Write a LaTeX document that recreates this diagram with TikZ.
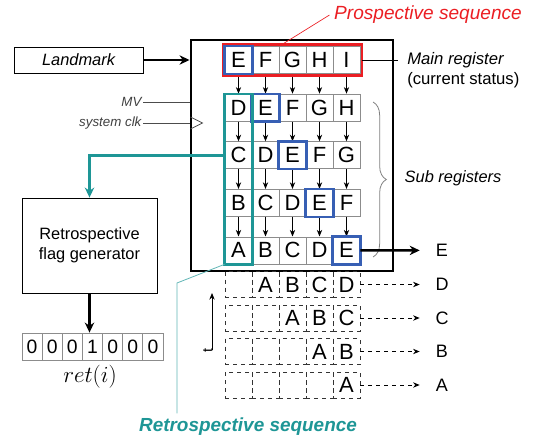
\documentclass[tikz,border=0pt]{standalone}
\usepackage{fontspec}
\setmainfont{Liberation Sans}
\usetikzlibrary{arrows.meta,decorations.pathreplacing,positioning}
\definecolor{prored}{RGB}{235,30,35}
\definecolor{retteal}{RGB}{30,150,150}
\definecolor{eblue}{RGB}{55,95,180}
\tikzset{
  cell/.style={draw=gray!90,line width=0.6pt,minimum width=20.25pt,minimum height=20.25pt,inner sep=0pt,font=\fontsize{16.5}{17}\selectfont},
  dcell/.style={cell,draw=black!80,dashed,minimum height=19.5pt},
  bit/.style={draw=gray!90,line width=0.6pt,minimum width=15.1pt,minimum height=20.25pt,inner sep=0pt,font=\fontsize{14.5}{16}\selectfont},
  outlbl/.style={minimum width=33pt,inner sep=0pt,font=\fontsize{13.5}{16}\selectfont},
  note/.style={font=\fontsize{12.3}{15}\selectfont\itshape},
  sig/.style={font=\fontsize{10}{12}\selectfont\itshape,text=black!75,inner sep=1pt},
  bigarrow/.style={line width=2pt,-{Stealth[length=7.5pt,width=7pt]}}
}
\begin{document}
\begin{tikzpicture}[x=0.75pt, y=-0.75pt, >={Stealth[length=5pt,width=4pt]}]
  \useasboundingbox (0,0) rectangle (533,439);
  \node[draw, line width=2.2pt, minimum width=151.5pt, minimum height=173.25pt] (regbox) at (292,155.5) {};
  \foreach \r/\row in {0/{E,F,G,H,I}, 1/{D,E,F,G,H}, 2/{C,D,E,F,G}, 3/{B,C,D,E,F}, 4/{A,B,C,D,E}}
    \foreach \l [count=\c] in \row
      \node[cell] (r\r-\c) at ({211.5+27*\c},{60+47.6*\r}) {\l};
  \foreach \r [evaluate=\r as \n using int(\r+1)] in {0,...,3}
    \foreach \c in {1,...,5}
      \draw[->, line width=0.6pt] (r\r-\c) -- (r\n-\c);
  \draw[prored, line width=1.8pt] ([shift={(-1.5,1.5)}]r0-1.south west) rectangle ([shift={(1.5,-1.5)}]r0-5.north east);
  \foreach \r/\c in {0/1,1/2,2/3,3/4,4/5}
    \draw[eblue, line width=1.8pt] (r\r-\c.south west) rectangle (r\r-\c.north east);
  \draw[retteal, line width=1.8pt] (r1-1.north west) rectangle (r4-1.south east);

  \node[draw, line width=0.6pt, minimum width=96.75pt, minimum height=19.5pt, note] (landmark) at (78.5,60) {Landmark};
  \draw[bigarrow] (landmark.east) -- (landmark.east -| regbox.west);
  \node[sig, anchor=east] (mv) at (143,102) {MV};
  \draw[line width=0.6pt, black!70] (mv.east) -- (mv.east -| regbox.west);
  \node[sig, anchor=east] (clk) at (143,123) {system clk};
  \draw[line width=0.6pt, black!70] (clk.east) -- (clk.east -| regbox.west);
  \coordinate (clkin) at (clk.east -| regbox.west);
  \draw[line width=0.6pt, black!70] (clkin) ++(1,-6) -- ++(12,6) -- ++(-12,6);

  \node[anchor=west, align=left, inner xsep=6.75pt, inner ysep=0pt, font=\fontsize{12.5}{15}\selectfont] (mainlbl) at (398,70) {{\itshape Main register}\\(current status)};
  \draw[line width=0.6pt] ([xshift=1.5pt]r0-5.east) -- (mainlbl.west |- r0-5.east);
  \node[text=prored, font=\fontsize{14.3}{16}\selectfont\itshape] (prosp) at (428,15) {Prospective sequence};
  \draw[prored, line width=0.5pt] (prosp.west) -- (r0-2.north east);

  \draw[gray, line width=0.6pt, decorate, decoration={brace, amplitude=10pt}] (373,102) -- (373,257);
  \node[note, anchor=west] (sublbl) at (400,178) {Sub registers};

  \node[draw, line width=0.6pt, minimum width=101.25pt, minimum height=71.25pt, align=center, font=\fontsize{12.3}{15}\selectfont] (flag) at (89.5,245.5) {Retrospective\\flag generator};
  \draw[bigarrow, retteal] (r2-1.west) -| (flag.north);
  \foreach \b [count=\i] in {0,0,0,1,0,0,0}
    \node[bit] (b\i) at ({11.93+20.14*\i},346.5) {\b};
  \draw[bigarrow] (flag.south) -- (flag.south |- b4.north);
  \node[font=\fontsize{16}{18}\selectfont] (retlbl) at (90,377) {$ret(i)$};

  \foreach \r/\row in {1/{{},A,B,C,D}, 2/{{},{},A,B,C}, 3/{{},{},{},A,B}, 4/{{},{},{},{},A}}
    \foreach \l [count=\c] in \row
      \node[dcell] (d\r-\c) at ({211.5+27*\c},{251+33.5*\r}) {\l};
  \node[outlbl] (outE) at (442,250.4) {E};
  \draw[bigarrow] (r4-5.east) -- (outE.west);
  \foreach \r/\l in {1/D,2/C,3/B,4/A} {
    \node[outlbl] (out\l) at (442,{251+33.5*\r}) {\l};
    \draw[->, dashed, line width=0.6pt] (d\r-5.east) -- (out\l.west);
  }
  \coordinate (tbot) at (212,350);
  \coordinate (ttop) at (212,293);
  \draw[->, line width=0.6pt] (tbot) -- (ttop);
  \node[rotate=90, inner sep=0pt, font=\fontsize{11}{12}\selectfont] (tlbl) at (208,350) {t};

  \node[text=retteal, font=\fontsize{14.2}{16}\selectfont\bfseries\itshape] (retro) at (248,427) {Retrospective sequence};
  \coordinate (rbend) at (177,283);
  \draw[retteal!70, line width=0.6pt] (r4-1.south west) -- (rbend) -- (rbend |- retro.north);
\end{tikzpicture}
\end{document}
